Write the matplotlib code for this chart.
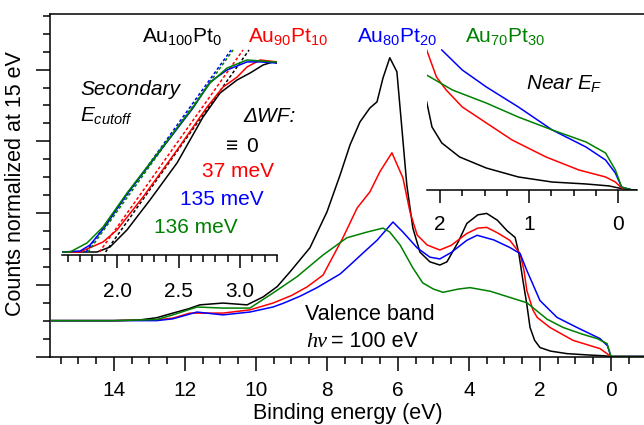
import matplotlib
matplotlib.use("Agg")
import matplotlib.pyplot as plt
from matplotlib.ticker import MultipleLocator

plt.rcParams['font.family'] = ['Liberation Sans', 'DejaVu Sans']
plt.rcParams['mathtext.fontset'] = 'custom'
plt.rcParams['mathtext.rm'] = 'Liberation Sans'
plt.rcParams['mathtext.it'] = 'Liberation Sans:italic'
plt.rcParams['mathtext.default'] = 'regular'

# Valence band spectra (binding energy in eV, counts normalized at 15 eV)
be_au100 = [15.75, 15.0, 14.0, 13.27, 12.8, 12.34, 11.9, 11.58, 10.93, 10.25,
            9.8, 9.4, 9.04, 8.48, 8.0, 7.63, 7.35, 7.07, 6.79, 6.59,
            6.42, 6.23, 6.03, 5.89, 5.75, 5.58, 5.38, 5.1, 4.82, 4.62,
            4.3, 4.06, 3.75, 3.5, 3.2, 2.93, 2.7, 2.6, 2.48, 2.37,
            2.28, 2.15, 2.0, 1.7, 1.24, 0.6, 0.2, 0.0, -0.93]
vb_au100 = [1.0, 1.0, 1.0, 1.02, 1.08, 1.21, 1.33, 1.44, 1.49, 1.44,
            1.66, 1.95, 2.36, 3.03, 4.03, 5.06, 5.9, 6.54, 6.93, 7.1,
            7.77, 8.33, 7.94, 6.37, 4.78, 3.58, 2.91, 2.64, 2.55, 2.64,
            3.2, 3.71, 3.95, 3.99, 3.8, 3.51, 3.32, 2.9, 2.12, 1.45,
            0.81, 0.45, 0.25, 0.15, 0.08, 0.04, 0.02, 0.0, 0.0]

be_au90 = [15.75, 14.0, 12.8, 12.34, 11.86, 11.38, 10.93, 10.17, 9.52, 9.0,
           8.56, 8.11, 7.55, 7.15, 6.79, 6.51, 6.17, 5.86, 5.66, 5.46,
           5.18, 4.82, 4.5, 4.06, 3.75, 3.5, 3.2, 2.85, 2.56, 2.45,
           2.37, 2.2, 2.08, 1.72, 1.07, 0.31, 0.0, -0.93]
vb_au90 = [1.0, 1.0, 1.02, 1.07, 1.21, 1.21, 1.21, 1.3, 1.49, 1.7,
           1.94, 2.27, 3.31, 4.14, 4.59, 5.15, 5.68, 4.98, 4.03, 3.39,
           3.11, 2.97, 3.1, 3.43, 3.58, 3.6, 3.45, 3.24, 2.87, 2.4,
           1.84, 1.3, 1.09, 0.81, 0.45, 0.22, 0.0, 0.0]

be_au80 = [15.75, 14.0, 12.8, 12.34, 11.66, 10.93, 10.17, 9.52, 9.24, 8.76,
           8.28, 7.63, 7.35, 6.99, 6.59, 6.14, 5.86, 5.46, 5.1, 4.82,
           4.5, 4.06, 3.77, 3.3, 2.85, 2.56, 2.37, 2.0, 1.52, 0.96,
           0.31, 0.1, 0.0, -0.93]
vb_au80 = [1.0, 1.0, 1.0, 1.05, 1.24, 1.16, 1.24, 1.38, 1.48, 1.68,
           1.92, 2.3, 2.55, 2.88, 3.24, 3.75, 3.47, 3.03, 2.77, 2.72,
           2.9, 3.24, 3.38, 3.25, 3.04, 2.87, 2.4, 1.56, 1.09, 0.81,
           0.5, 0.3, 0.0, 0.0]

be_au70 = [15.75, 14.0, 12.8, 12.34, 11.66, 10.93, 10.17, 9.52, 8.85, 8.11,
           7.44, 6.87, 6.42, 6.23, 5.94, 5.58, 5.3, 5.0, 4.73, 4.3,
           3.97, 3.4, 2.76, 2.37, 1.8, 1.35, 0.8, 0.39, 0.11, 0.0, -0.93]
vb_au70 = [1.0, 1.0, 1.03, 1.16, 1.38, 1.35, 1.35, 1.77, 2.22, 2.83,
           3.31, 3.47, 3.58, 3.47, 3.11, 2.47, 2.05, 1.88, 1.79, 1.88,
           1.92, 1.82, 1.62, 1.5, 1.04, 0.81, 0.62, 0.5, 0.36, 0.0, 0.0]

# Secondary electron cutoff (kinetic energy, eV)
sec_au100_x = [1.553, 1.837, 1.943, 2.081, 2.268, 2.488, 2.699, 2.837, 2.976, 3.081, 3.187, 3.268, 3.30]
sec_au100_y = [0.0, 0.0, 0.026, 0.115, 0.271, 0.464, 0.703, 0.828, 0.896, 0.932, 0.974, 0.99, 0.984]
sec_au90_x = [1.553, 1.699, 1.886, 2.0, 2.211, 2.488, 2.732, 2.862, 2.976, 3.057, 3.163, 3.30]
sec_au90_y = [0.0, 0.0, 0.052, 0.115, 0.286, 0.531, 0.755, 0.859, 0.911, 0.964, 1.0, 0.99]
sec_au80_x = [1.553, 1.70, 1.78, 1.90, 2.081, 2.35, 2.618, 2.756, 2.894, 3.057, 3.16, 3.30]
sec_au80_y = [0.0, 0.005, 0.036, 0.13, 0.302, 0.526, 0.75, 0.885, 0.948, 0.99, 0.99, 0.984]
sec_au70_x = [1.553, 1.618, 1.756, 1.886, 2.081, 2.35, 2.618, 2.756, 2.894, 3.057, 3.268, 3.30]
sec_au70_y = [0.0, 0.0, 0.047, 0.13, 0.307, 0.531, 0.755, 0.88, 0.958, 1.0, 0.99, 0.99]

# linear extrapolations of the cutoff (start, end)
fit_au100_x = [1.907, 3.073]
fit_au90_x = [1.857, 3.024]
fit_au80_x = [1.748, 2.927]
fit_au70_x = [1.764, 2.943]
fit_y = [0.0, 1.052]

# Near the Fermi edge
ef_au100_x = [2.15, 2.09, 1.98, 1.78, 1.48, 1.12, 0.74, 0.36, 0.1, -0.01, -0.16, -0.21]
ef_au100_y = [0.63, 0.45, 0.336, 0.236, 0.157, 0.093, 0.057, 0.043, 0.029, 0.014, 0.0, 0.0]
ef_au90_x = [2.15, 2.04, 1.93, 1.75, 1.48, 1.19, 0.81, 0.44, 0.14, 0.03, -0.04, -0.16, -0.21]
ef_au90_y = [1.0, 0.807, 0.714, 0.593, 0.479, 0.357, 0.236, 0.143, 0.093, 0.057, 0.014, 0.0, 0.0]
ef_au80_x = [1.98, 1.75, 1.48, 1.12, 0.74, 0.36, 0.14, 0.03, -0.04, -0.16, -0.21]
ef_au80_y = [1.0, 0.857, 0.736, 0.593, 0.429, 0.307, 0.214, 0.121, 0.021, 0.0, 0.0]
ef_au70_x = [2.15, 1.86, 1.48, 1.12, 0.74, 0.36, 0.14, 0.03, -0.04, -0.16, -0.21]
ef_au70_y = [0.821, 0.714, 0.621, 0.521, 0.429, 0.343, 0.264, 0.143, 0.021, 0.0, 0.0]

colors = ['black', '#ff0000', '#0000ff', '#008000']
names = [r'Au$_{100}$Pt$_{0}$', r'Au$_{90}$Pt$_{10}$', r'Au$_{80}$Pt$_{20}$', r'Au$_{70}$Pt$_{30}$']
dwf = [r'$\equiv$ 0', '37 meV', '135 meV', '136 meV']

W, H = 644, 425


def fx(px):
    return px / W


def fy(py):
    return (H - py) / H


fig = plt.figure(figsize=(W / 100, H / 100), dpi=100)

# main valence band panel
ax = fig.add_axes([fx(50), fy(356.5), (W - 50) / W, 342.5 / H])
vb = [(be_au100, vb_au100), (be_au90, vb_au90), (be_au80, vb_au80), (be_au70, vb_au70)]
for (x, y), c in zip(vb, colors):
    ax.plot(x, y, color=c, lw=1.1)
ax.set_xlim(15.8, -0.93)
ax.set_ylim(0, 9.55)
ax.spines['right'].set_visible(False)
for s in ['left', 'bottom', 'top']:
    ax.spines[s].set_linewidth(1.1)
ax.xaxis.set_major_locator(MultipleLocator(2))
ax.xaxis.set_minor_locator(MultipleLocator(0.5))
ax.yaxis.set_major_locator(MultipleLocator(2))
ax.yaxis.set_minor_locator(MultipleLocator(0.5))
ax.tick_params(which='major', direction='out', length=10, width=1.1, labelsize=15, pad=8)
ax.tick_params(which='minor', direction='out', length=5, width=1.1)
ax.tick_params(axis='y', labelleft=False)
ax.set_xlabel('Binding energy (eV)', fontsize=15.5)
ax.set_ylabel('Counts normalized at 15 eV', fontsize=15.5)
ax.xaxis.set_label_coords(0.502, -0.136)
ax.yaxis.set_label_coords(-0.041, 0.504)

# secondary cutoff inset
axl = fig.add_axes([fx(62), fy(255), 215 / W, 210 / H])
axl.patch.set_visible(False)
sec = [(sec_au100_x, sec_au100_y), (sec_au90_x, sec_au90_y),
       (sec_au80_x, sec_au80_y), (sec_au70_x, sec_au70_y)]
fits = [fit_au100_x, fit_au90_x, fit_au80_x, fit_au70_x]
for (x, y), fit, c in zip(sec, fits, colors):
    axl.plot(fit, fit_y, color=c, lw=1.1, ls=(0, (2, 1.5)))
    axl.plot(x, y, color=c, lw=1.1)
axl.set_xlim(1.553, 3.30)
axl.set_ylim(-0.0156, 1.078)
for s in ['left', 'right', 'top']:
    axl.spines[s].set_visible(False)
axl.spines['bottom'].set_linewidth(1.1)
axl.set_yticks([])
axl.set_xticks([2.0, 2.5, 3.0], ['2.0', '2.5', '3.0'])
axl.xaxis.set_minor_locator(MultipleLocator(0.1))
axl.tick_params(which='major', direction='out', length=9.5, width=1.1, labelsize=15, pad=10)
axl.tick_params(which='minor', direction='out', length=5, width=1.1)

# near Fermi edge inset
axr = fig.add_axes([fx(427), fy(190), 210 / W, 142 / H])
axr.patch.set_visible(False)
ef = [(ef_au100_x, ef_au100_y), (ef_au90_x, ef_au90_y),
      (ef_au80_x, ef_au80_y), (ef_au70_x, ef_au70_y)]
for (x, y), c in zip(ef, colors):
    axr.plot(x, y, color=c, lw=1.1)
axr.set_xlim(2.146, -0.213)
axr.set_ylim(0, 1.014)
for s in ['left', 'right', 'top']:
    axr.spines[s].set_visible(False)
axr.spines['bottom'].set_linewidth(1.1)
axr.set_yticks([])
axr.set_xticks([0, 1, 2])
axr.xaxis.set_minor_locator(MultipleLocator(0.25))
axr.tick_params(which='major', direction='out', length=9, width=1.1, labelsize=15, pad=9)
axr.tick_params(which='minor', direction='out', length=4.5, width=1.1)

# labels
for name, c, px in zip(names, colors, [142, 248, 357, 465]):
    fig.text(fx(px), fy(43), name, color=c, fontsize=15)
fig.text(fx(80), fy(95), 'Secondary', fontsize=15, style='italic')
fig.text(fx(80), fy(122), r'$\mathit{E}_{\mathit{cutoff}}$', fontsize=15)
fig.text(fx(243), fy(122), 'ΔWF:', fontsize=15, style='italic')
for txt, c, px, py in zip(dwf, colors, [222, 202, 180, 154], [152, 177, 205, 233]):
    fig.text(fx(px), fy(py), txt, color=c, fontsize=15)
fig.text(fx(526), fy(90), r'Near $\mathit{E}_{\mathit{F}}$', fontsize=15, style='italic')
fig.text(fx(305), fy(320), 'Valence band', fontsize=15.5)
fig.text(fx(306), fy(347), 'hν', fontsize=16, style='italic', family='Liberation Serif')
fig.text(fx(418), fy(347), '= 100 eV', fontsize=15.5, ha='right')

fig.savefig('out.png', dpi=100)
